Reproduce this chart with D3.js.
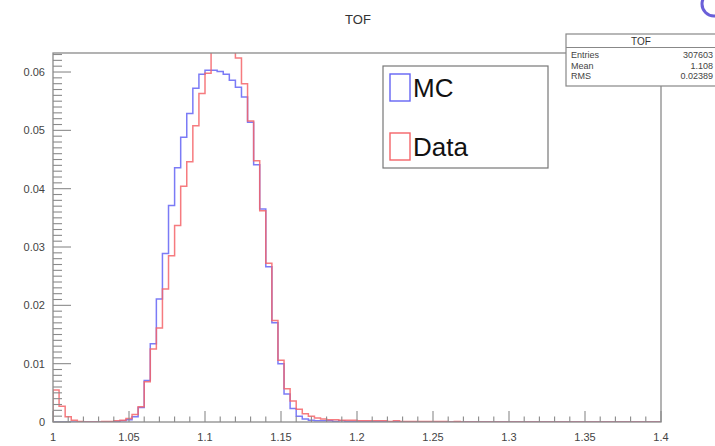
<!DOCTYPE html>
<html><head><meta charset="utf-8">
<script src="https://cdn.jsdelivr.net/npm/d3@7"></script>
<style>body{margin:0;background:#fff}svg{display:block}</style>
</head><body>
<svg id="c" width="715" height="446"></svg>
<script>
// Histogram definition: 100 bins on [1, 1.4]
const histMin = 1.0, histMax = 1.4, nBins = 100;
const xTickLabels = ["1","1.05","1.1","1.15","1.2","1.25","1.3","1.35","1.4"];
const xTickValues = [1,1.05,1.1,1.15,1.2,1.25,1.3,1.35,1.4];
const yTickLabels = ["0","0.01","0.02","0.03","0.04","0.05","0.06"];
const yTickValues = [0,0.01,0.02,0.03,0.04,0.05,0.06];
const yMax = 0.06326;
const seriesNames = ["MC","Data"];
const mcValues = [
 0,0,0,0,0,0,0,0,0,0,
 0.0001,0.0002,0.0004,0.0009,0.0025,0.0071,0.0134,0.0211,0.0289,0.0371,
 0.0436,0.0488,0.0529,0.0572,0.0596,0.0603,0.0603,0.0601,0.0596,0.0586,
 0.0574,0.0557,0.0514,0.0441,0.0365,0.0266,0.0170,0.0100,0.0048,0.0023,
 0.0010,0.0005,0.0003,0.0002,0.0002,0.0002,0.0001,0.0002,0.0001,0.0001,
 0.0001,0.0001,0.0001,0.0001,0.0001,0,0.0001,0,0,0,
 0,0,0,0,0,0,0,0,0,0,
 0,0,0,0,0,0,0,0,0,0,
 0,0,0,0,0,0,0,0,0,0,
 0,0,0,0,0,0,0,0,0,0];
const dataValues = [
 0.0055,0.0027,0.0009,0.0003,0.0001,0,0,0,0.0001,0.0001,
 0.0002,0.0003,0.0006,0.0013,0.0026,0.0069,0.0125,0.0161,0.0228,0.0285,
 0.0337,0.0404,0.0446,0.0508,0.0563,0.0598,0.0648,0.0667,0.0671,0.0656,
 0.0624,0.0580,0.0516,0.0448,0.0362,0.0272,0.0174,0.0106,0.0057,0.0036,
 0.0022,0.0014,0.0010,0.0007,0.0005,0.0004,0.0004,0.0003,0.0003,0.0003,
 0.0002,0.0002,0.0002,0.0002,0.0002,0.0001,0.0002,0.0001,0.0001,0.0001,
 0.0001,0.0001,0.0001,0.0001,0.0001,0,0.0001,0,0,0,
 0,0,0,0,0,0,0,0,0,0,
 0,0,0,0,0,0,0,0,0,0,
 0,0,0,0,0,0,0,0,0,0];
const statLabels = ["Entries","Mean","RMS"];
const statValues = ["307603","1.108","0.02389"];
const title = "TOF";

const svg = d3.select("#c");
const fx0 = 53, fx1 = 661, fy0 = 53, fy1 = 422;
const x = d3.scaleLinear().domain([histMin, histMax]).range([fx0, fx1]);
const y = d3.scaleLinear().domain([0, yMax]).range([fy1, fy0]);
const frameCol = "#8a8a8a", textCol = "#444";
const font = "'Liberation Sans', Arial, sans-serif";
const mcCol = "#6464f4", dataCol = "#f46468";

svg.append("text").attr("x", 358).attr("y", 24).attr("text-anchor","middle")
  .attr("font-family", font).attr("font-size", 13).attr("fill","#333").text(title);

// clip
svg.append("clipPath").attr("id","fr").append("rect")
  .attr("x", fx0).attr("y", fy0).attr("width", fx1-fx0).attr("height", fy1-fy0);

const bw = (histMax-histMin)/nBins;
function pts(vals){
  const p = [[histMin, 0]];
  vals.forEach((v,i)=>{ p.push([histMin+i*bw, v]); });
  p.push([histMax, vals[vals.length-1]]);
  return p;
}
const line = d3.line().x(d=>x(d[0])).y(d=>y(d[1])).curve(d3.curveStepAfter);
const g = svg.append("g").attr("clip-path","url(#fr)");
g.append("path").attr("d", line(pts(mcValues))).attr("fill","none")
  .attr("stroke", mcCol).attr("stroke-width",1.5).attr("opacity",0.85);
g.append("path").attr("d", line(pts(dataValues))).attr("fill","none")
  .attr("stroke", dataCol).attr("stroke-width",1.5).attr("opacity",0.85);

// frame
svg.append("rect").attr("x", fx0).attr("y", fy0).attr("width", fx1-fx0).attr("height", fy1-fy0)
  .attr("fill","none").attr("stroke", frameCol).attr("stroke-width",1.3);

// x axis ticks (inside)
const xMinor = d3.range(0, 41).map(i=>histMin + i*0.01);
const xa = svg.append("g");
xMinor.forEach((v,i)=>{
  const major = i%5===0;
  xa.append("line").attr("x1", x(v)).attr("x2", x(v)).attr("y1", fy1).attr("y2", fy1-(major?11:5.5))
    .attr("stroke", frameCol).attr("stroke-width",1.1);
});
xTickValues.forEach((v,i)=>{
  xa.append("text").attr("x", x(v)).attr("y", 441).attr("text-anchor","middle")
    .attr("font-family", font).attr("font-size", 11).attr("fill", textCol).text(xTickLabels[i]);
});
// y axis ticks
const yMinor = d3.range(0, 64).map(i=>i*0.001);
yMinor.forEach((v,i)=>{
  const major = i%10===0;
  svg.append("line").attr("x1", fx0).attr("x2", fx0+(major?18:9)).attr("y1", y(v)).attr("y2", y(v))
    .attr("stroke", frameCol).attr("stroke-width",1.1);
});
yTickValues.forEach((v,i)=>{
  svg.append("text").attr("x", 45).attr("y", y(v)+4).attr("text-anchor","end")
    .attr("font-family", font).attr("font-size", 11).attr("fill", textCol).text(yTickLabels[i]);
});

// legend
const lg = svg.append("g");
lg.append("rect").attr("x",383).attr("y",66).attr("width",165).attr("height",102)
  .attr("fill","#fff").attr("stroke","#777").attr("stroke-width",1.2);
const legCols = [mcCol, dataCol];
seriesNames.forEach((n,i)=>{
  const cy = 87 + i*59;
  lg.append("rect").attr("x",390).attr("y",cy-13).attr("width",20).attr("height",27)
    .attr("fill","none").attr("stroke",legCols[i]).attr("stroke-width",1.4);
  lg.append("text").attr("x",413).attr("y",cy+9.5).attr("font-family",font).attr("font-size",26)
    .attr("fill","#111").text(n);
});

// stats box
const sb = svg.append("g");
sb.append("rect").attr("x",566).attr("y",34).attr("width",170).attr("height",52)
  .attr("fill","#fff").attr("stroke","#888").attr("stroke-width",1.2);
sb.append("line").attr("x1",566).attr("x2",715).attr("y1",47.5).attr("y2",47.5).attr("stroke","#888");
sb.append("text").attr("x",641).attr("y",45).attr("text-anchor","middle").attr("font-family",font)
  .attr("font-size",10).attr("fill","#333").text(title);
statLabels.forEach((l,i)=>{
  const by = 58 + i*10.5;
  sb.append("text").attr("x",571).attr("y",by).attr("font-family",font).attr("font-size",9)
    .attr("fill","#444").text(l);
  sb.append("text").attr("x",713).attr("y",by).attr("text-anchor","end").attr("font-family",font)
    .attr("font-size",9).attr("fill","#444").text(statValues[i]);
});

// partial logo arc at top-right corner
svg.append("circle").attr("cx",714).attr("cy",4).attr("r",12).attr("fill","none")
  .attr("stroke","#6a5fd8").attr("stroke-width",3);
</script>
</body></html>
